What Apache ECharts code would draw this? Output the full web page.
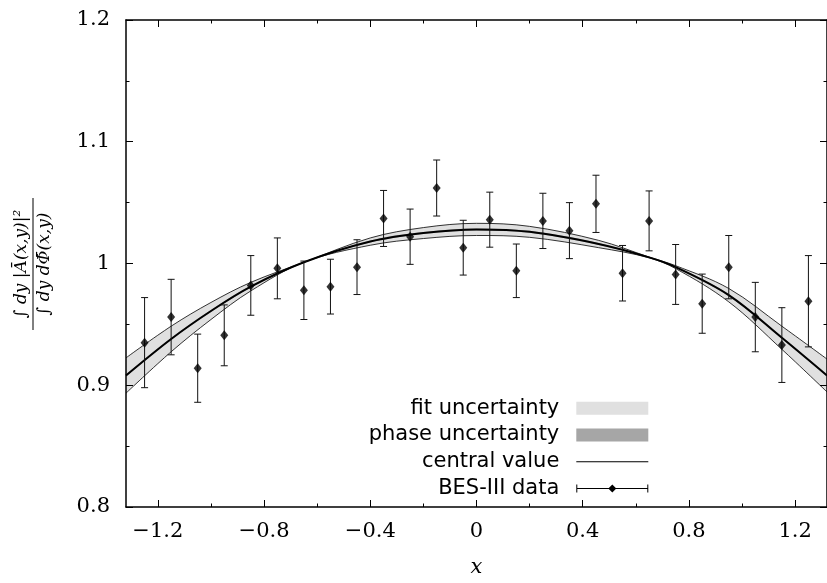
<!DOCTYPE html>
<html>
<head>
<meta charset="utf-8">
<script src="https://cdn.jsdelivr.net/npm/echarts@6/dist/echarts.min.js"></script>
<style>
  html, body { margin: 0; padding: 0; background: #fff; }
  #chart { width: 827px; height: 583px; }
</style>
</head>
<body>
<div id="chart"></div>
<script>
// BES-III data: bin centres, measured ratio, symmetric error
var dataX = [-1.25, -1.15, -1.05, -0.95, -0.85, -0.75, -0.65, -0.55, -0.45, -0.35, -0.25, -0.15, -0.05,
             0.05, 0.15, 0.25, 0.35, 0.45, 0.55, 0.65, 0.75, 0.85, 0.95, 1.05, 1.15, 1.25];
var dataY = [0.935, 0.956, 0.914, 0.941, 0.982, 0.996, 0.978, 0.981, 0.997, 1.037, 1.022, 1.062, 1.013,
             1.036, 0.994, 1.035, 1.027, 1.049, 0.992, 1.035, 0.991, 0.967, 0.997, 0.956, 0.933, 0.969];
var dataErr = [0.037, 0.031, 0.028, 0.025, 0.0245, 0.025, 0.024, 0.0225, 0.0225, 0.023, 0.0227, 0.023, 0.0225,
               0.0226, 0.022, 0.0227, 0.023, 0.0235, 0.0228, 0.0246, 0.0246, 0.0243, 0.026, 0.0285, 0.0307, 0.0375];

// theory curve
var curveX     = [-1.32, -1.15, -1.0, -0.85, -0.65, -0.4, -0.2, 0, 0.2, 0.46, 0.65, 0.75, 0.95, 1.15, 1.32];
var central    = [0.908, 0.938, 0.961, 0.981, 1.001, 1.018, 1.025, 1.028, 1.026, 1.016, 1.005, 0.997, 0.974, 0.939, 0.908];
var fitUpper   = [0.9225, 0.9485, 0.968, 0.9845, 1.001, 1.021, 1.0295, 1.033, 1.0305, 1.019, 1.0053, 0.9982, 0.9795, 0.9485, 0.9215];
var fitLower   = [0.8935, 0.9275, 0.954, 0.9775, 1.001, 1.015, 1.0205, 1.023, 1.0215, 1.013, 1.0047, 0.9958, 0.9685, 0.9295, 0.8945];
var phaseUpper = [0.9088, 0.9388, 0.9618, 0.9818, 1.001, 1.0188, 1.0258, 1.0288, 1.0268, 1.0168, 1.0052, 0.9978, 0.9748, 0.9398, 0.9088];
var phaseLower = [0.9072, 0.9372, 0.9602, 0.9802, 1.001, 1.0172, 1.0242, 1.0272, 1.0252, 1.0152, 1.0048, 0.9962, 0.9732, 0.9382, 0.9072];

// ticks
var xMajor = [-1.2, -0.8, -0.4, 0, 0.4, 0.8, 1.2];
var xMinor = [-1.0, -0.6, -0.2, 0.2, 0.6, 1.0];
var yMajor = [0.8, 0.9, 1, 1.1, 1.2];
var yMinor = [0.85, 0.95, 1.05, 1.15];

var legendNames = ['fit uncertainty', 'phase uncertainty', 'central value', 'BES-III data'];
var FIT_GRAY = '#e0e0e0', PHASE_GRAY = '#a6a6a6';

function pairs(xs, ys) {
  return xs.map(function (x, i) { return [x, ys[i]]; });
}

var chart = echarts.init(document.getElementById('chart'));

var AX = { color: '#000', width: 1.5 };
var serif = '"DejaVu Serif", serif';

// extra axes that only carry ticks (mirror / minor ticks)
function tickAxis(pos, vals, len, showLine) {
  var horiz = pos === 'bottom' || pos === 'top';
  return {
    type: 'value', position: pos, z: 10,
    min: horiz ? -1.32 : 0.8, max: horiz ? 1.32 : 1.2,
    axisLine: { show: showLine, onZero: false, lineStyle: AX },
    axisTick: { show: true, inside: true, length: len, customValues: vals, lineStyle: { color: '#000', width: 1 } },
    axisLabel: { show: false },
    splitLine: { show: false }
  };
}

// band edges are drawn as line areas down to the axis start, painted in order
// (upper edge first, lower edge last in white) so that only the band stays filled
function edge(name, ys, fill, lineW) {
  return {
    name: name, type: 'line', smooth: 0.35, showSymbol: false, silent: true, z: 1,
    data: pairs(curveX, ys),
    lineStyle: { color: '#000', width: lineW },
    itemStyle: { color: fill },
    areaStyle: { color: fill, opacity: 1, origin: 'start' }
  };
}

// legend icons (84 x 13 box, the first 12 px left empty as a gap)
var ICON_BOX = 'path://M0,0h0.01v0.01h-0.01z M12,0h72v13h-72z';
var ICON_LINE = 'path://M0,0h0.01v0.01h-0.01z M12,6h72v1h-72z M83.99,12.99h0.01v0.01h-0.01z';
var ICON_DATA = 'path://M0,0h0.01v0.01h-0.01z M12,6h72v1h-72z M12,2.5h1v8h-1z M83,2.5h1v8h-1z M48,2.5l4,4l-4,4l-4,-4z M83.99,12.99h0.01v0.01h-0.01z';

var option = {
  animation: false,
  backgroundColor: '#fff',
  grid: { left: 126, top: 20, width: 703.6, height: 488.3 },
  xAxis: [
    {
      type: 'value', position: 'bottom', min: -1.32, max: 1.32, z: 10,
      axisLine: { onZero: false, lineStyle: AX },
      axisTick: { inside: true, length: 7, customValues: xMajor, lineStyle: { color: '#000', width: 1 } },
      axisLabel: {
        customValues: xMajor, margin: 14, color: '#000',
        fontFamily: serif, fontSize: 21,
        formatter: function (v) { return String(v).replace('-', '\u2212'); }
      },
      splitLine: { show: false },
      name: 'x', nameLocation: 'middle', nameGap: 50,
      nameTextStyle: { fontFamily: serif, fontStyle: 'italic', fontSize: 21, color: '#000' }
    },
    tickAxis('bottom', xMinor, 3.5, false),
    tickAxis('top', xMajor, 7, true),
    tickAxis('top', xMinor, 3.5, false)
  ],
  yAxis: [
    {
      type: 'value', position: 'left', min: 0.8, max: 1.2, z: 10,
      axisLine: { onZero: false, lineStyle: AX },
      axisTick: { inside: true, length: 7, customValues: yMajor, lineStyle: { color: '#000', width: 1 } },
      axisLabel: { customValues: yMajor, margin: 16, color: '#000', fontFamily: serif, fontSize: 21 },
      splitLine: { show: false }
    },
    tickAxis('left', yMinor, 3.5, false),
    tickAxis('right', yMajor, 7, true),
    tickAxis('right', yMinor, 3.5, false)
  ],
  legend: {
    orient: 'vertical', right: 178.7, top: 397.8, align: 'right', padding: 0,
    itemGap: 5.7, itemWidth: 84, itemHeight: 13, selectedMode: false, z: 20,
    textStyle: { fontFamily: '"DejaVu Sans", sans-serif', fontSize: 21, color: '#000', lineHeight: 21 },
    itemStyle: { borderWidth: 0 },
    data: [
      { name: legendNames[0], icon: ICON_BOX, itemStyle: { color: FIT_GRAY } },
      { name: legendNames[1], icon: ICON_BOX, itemStyle: { color: PHASE_GRAY } },
      { name: legendNames[2], icon: ICON_LINE, itemStyle: { color: '#000' } },
      { name: legendNames[3], icon: ICON_DATA, itemStyle: { color: '#000' } }
    ]
  },
  graphic: [{
    type: 'group', x: 33, y: 264, rotation: Math.PI / 2,
    children: [
      { type: 'text', x: 0, y: -3, style: { text: '\u222B dy |\u0100(x,y)|\u00B2', font: 'italic 17px "DejaVu Serif"', align: 'center', verticalAlign: 'bottom', fill: '#000' } },
      { type: 'line', shape: { x1: -66, y1: 0, x2: 66, y2: 0 }, style: { stroke: '#000', lineWidth: 1 } },
      { type: 'text', x: 0, y: 3, style: { text: '\u222B dy d\u03A6\u0304(x,y)', font: 'italic 17px "DejaVu Serif"', align: 'center', verticalAlign: 'top', fill: '#000' } }
    ]
  }],
  series: [
    edge(legendNames[0], fitUpper, FIT_GRAY, 0.8),
    edge(legendNames[1], phaseUpper, PHASE_GRAY, 0),
    edge('phaseLower', phaseLower, FIT_GRAY, 0),
    edge('fitLower', fitLower, '#fff', 0.8),
    {
      name: legendNames[2], type: 'line', smooth: 0.35, showSymbol: false, z: 2,
      data: pairs(curveX, central),
      lineStyle: { color: '#000', width: 2 }, itemStyle: { color: '#000' }
    },
    {
      name: legendNames[3], type: 'custom', z: 3,
      data: dataX.map(function (x, i) { return [x, dataY[i] - dataErr[i], dataY[i] + dataErr[i]]; }),
      encode: { x: 0, y: [1, 2] },
      renderItem: function (params, api) {
        var top = api.coord([api.value(0), api.value(2)]);
        var bot = api.coord([api.value(0), api.value(1)]);
        var w = 3.5;
        var st = { stroke: '#111', lineWidth: 1 };
        return {
          type: 'group',
          children: [
            { type: 'line', shape: { x1: top[0], y1: top[1], x2: bot[0], y2: bot[1] }, style: st },
            { type: 'line', shape: { x1: top[0] - w, y1: top[1], x2: top[0] + w, y2: top[1] }, style: st },
            { type: 'line', shape: { x1: bot[0] - w, y1: bot[1], x2: bot[0] + w, y2: bot[1] }, style: st }
          ]
        };
      },
      itemStyle: { color: '#000' }
    },
    {
      name: legendNames[3], type: 'scatter', symbol: 'diamond', symbolSize: [8, 10], z: 4,
      data: pairs(dataX, dataY),
      itemStyle: { color: '#000' }
    }
  ]
};

chart.setOption(option);
</script>
</body>
</html>
